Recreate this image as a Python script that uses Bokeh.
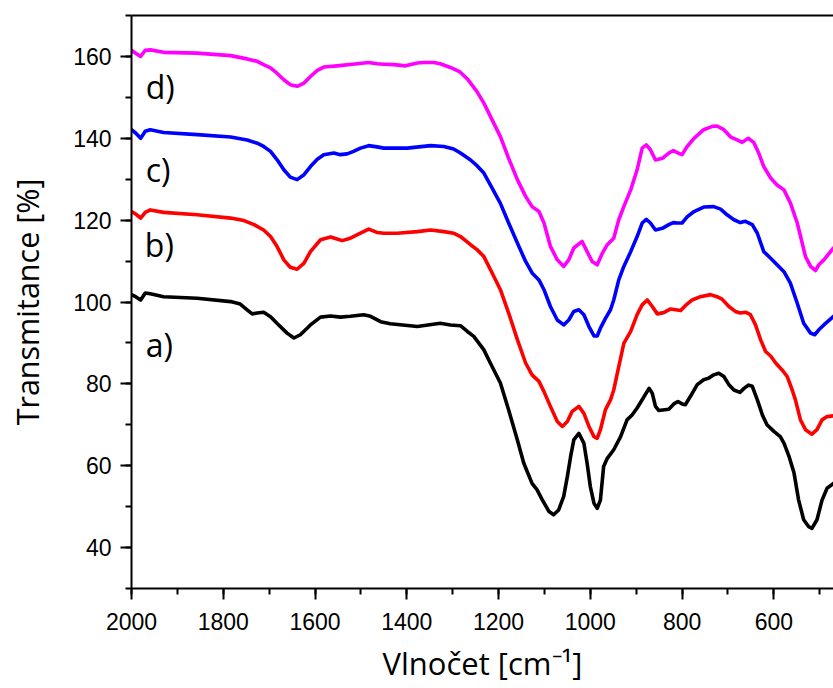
from bokeh.plotting import figure
from bokeh.models import Range1d, LinearAxis, SingleIntervalTicker, FixedTicker, ColumnDataSource
from bokeh.core.properties import value
from bokeh.embed import file_html
from bokeh.resources import INLINE

# ---- data ----
wn_a = [2000, 1991, 1980, 1970, 1959, 1930, 1857, 1784, 1763, 1748, 1737, 1726, 1712, 1697, 1683,
        1661, 1646, 1632, 1610, 1588, 1566, 1545, 1523, 1494, 1479, 1457, 1436, 1377, 1327, 1305,
        1283, 1268, 1254, 1232, 1218, 1196, 1178, 1159, 1145, 1127, 1116, 1105, 1090, 1080, 1069,
        1058, 1050, 1043, 1036, 1025, 1014, 1007, 1000, 992, 985, 978, 971, 963, 949, 934, 920,
        909, 898, 887, 872, 865, 858, 851, 829, 818, 809, 800, 793, 782, 767, 753, 742, 731, 720,
        709, 698, 687, 674, 665, 655, 647, 636, 625, 615, 600, 586, 578, 567, 556, 546, 535, 524,
        517, 506, 495, 484, 470]
t_a = [101.8, 101.3, 100.5, 102.2, 102.0, 101.3, 100.9, 100.1, 99.5, 98.1, 97.1, 97.3, 97.5, 96.4, 94.8,
       92.4, 91.2, 92.0, 94.4, 96.3, 96.6, 96.3, 96.5, 96.9, 96.5, 95.2, 94.7, 94.0, 94.8, 94.4,
       94.2, 92.8, 91.6, 88.3, 85.1, 80.2, 73.6, 66.3, 60.6, 55.7, 54.1, 51.7, 48.8, 48.0, 49.2,
       52.5, 57.4, 62.2, 66.3, 67.9, 65.5, 60.6, 54.9, 50.8, 49.6, 51.6, 59.8, 61.8, 63.9, 67.1, 71.2,
       72.4, 74.1, 76.1, 78.9, 77.7, 74.5, 73.5, 73.8, 75.1, 75.7, 75.1, 74.9, 76.9, 79.8, 81.0, 81.4, 82.2, 82.6,
       81.8, 79.8, 78.5, 77.9, 78.9, 79.7, 79.4, 76.1, 72.4, 70.0, 68.4, 67.1, 65.5, 62.3, 58.2, 51.6, 46.8, 45.1,
       44.7, 46.8, 51.6, 54.5, 55.7]

wn_b = [2000, 1991, 1980, 1970, 1959, 1930, 1857, 1784, 1755, 1733, 1712, 1697, 1683, 1668, 1654,
        1639, 1624, 1610, 1588, 1566, 1552, 1541, 1523, 1501, 1483, 1465, 1450, 1421, 1377, 1348,
        1319, 1298, 1283, 1261, 1247, 1232, 1214, 1196, 1178, 1159, 1141, 1127, 1112, 1101, 1087,
        1072, 1061, 1050, 1040, 1025, 1014, 1003, 992, 985, 978, 967, 956, 949, 938, 927, 912,
        898, 887, 876, 865, 854, 840, 825, 814, 803, 793, 778, 760, 738, 724, 713, 698, 684, 673,
        662, 651, 640, 629, 618, 607, 596, 582, 571, 560, 553, 542, 531, 517, 506, 495, 484, 470]
t_b = [122.1, 121.5, 120.5, 121.9, 122.5, 121.9, 121.3, 120.5, 119.9, 118.9, 117.6, 116.0, 113.6, 110.3, 108.5,
       108.0, 109.5, 112.3, 115.2, 115.9, 115.4, 115.0, 115.6, 116.8, 117.8, 117.0, 116.8, 116.8, 117.2, 117.6,
       117.2, 116.8, 116.0, 114.0, 112.8, 111.1, 107.1, 103.0, 97.3, 90.8, 85.1, 82.2, 80.6, 78.1, 74.5,
       70.8, 69.6, 70.8, 73.2, 74.5, 72.8, 69.6, 67.1, 66.7, 68.8, 73.7, 76.1, 78.5, 84.2, 89.9, 92.8,
       96.9, 99.3, 100.5, 98.9, 97.1, 97.4, 98.3, 98.1, 97.9, 99.1, 100.5, 101.3, 101.8, 101.3, 100.7, 98.9, 97.7, 97.3,
       97.5, 96.9, 94.4, 90.8, 87.9, 86.8, 85.1, 83.4, 81.8, 78.5, 76.1, 71.2, 68.8, 67.7, 68.8, 71.2, 72.0, 72.2]

wn_c = [2000, 1991, 1980, 1970, 1959, 1930, 1857, 1784, 1748, 1726, 1712, 1697, 1683, 1668, 1654,
        1639, 1624, 1610, 1595, 1581, 1559, 1545, 1530, 1516, 1501, 1483, 1465, 1450, 1399, 1348,
        1319, 1298, 1283, 1261, 1247, 1232, 1214, 1196, 1178, 1159, 1141, 1127, 1112, 1101, 1087,
        1072, 1058, 1047, 1036, 1025, 1014, 1003, 992, 985, 978, 967, 956, 949, 938, 927, 912,
        898, 887, 878, 869, 858, 843, 829, 819, 811, 800, 789, 774, 753, 731, 716, 702, 687, 673,
        662, 647, 636, 622, 607, 593, 578, 564, 549, 535, 520, 511, 502, 491, 470]
t_c = [142.1, 141.3, 140.0, 141.7, 142.1, 141.4, 140.9, 140.3, 139.6, 138.8, 138.0, 136.8, 134.8, 132.3, 130.5,
       129.9, 131.1, 133.1, 134.9, 136.0, 136.4, 136.0, 136.2, 136.8, 137.6, 138.2, 137.9, 137.6, 137.6, 138.2,
       138.0, 137.4, 136.4, 134.7, 133.3, 131.5, 127.8, 124.1, 119.3, 114.4, 109.9, 107.1, 105.4, 103.0, 98.9,
       95.6, 94.4, 95.6, 97.7, 98.1, 96.9, 94.0, 91.7, 91.7, 93.6, 96.0, 98.1, 100.5, 105.4, 108.7, 112.3,
       116.0, 119.3, 120.2, 119.3, 117.6, 118.0, 118.9, 119.4, 119.3, 119.3, 120.8, 122.1, 123.2, 123.3, 122.7, 121.3, 120.1, 119.4,
       119.7, 118.9, 116.8, 112.3, 110.7, 109.1, 107.4, 104.6, 99.7, 94.8, 92.4, 92.0, 93.2, 94.4, 96.5]

wn_d = [2000, 1991, 1980, 1970, 1959, 1930, 1857, 1784, 1748, 1726, 1712, 1697, 1683, 1668, 1654,
        1639, 1624, 1610, 1595, 1581, 1552, 1508, 1483, 1465, 1450, 1428, 1403, 1377, 1363, 1341,
        1327, 1305, 1284, 1268, 1247, 1232, 1214, 1196, 1178, 1159, 1141, 1127, 1112, 1101, 1087,
        1072, 1058, 1047, 1036, 1018, 1007, 996, 985, 974, 963, 949, 938, 927, 912, 898, 887,
        878, 869, 858, 843, 829, 819, 809, 800, 789, 774, 753, 734, 724, 709, 694, 680, 669, 656,
        644, 633, 622, 607, 593, 578, 564, 549, 531, 520, 509, 502, 491, 470]
t_d = [161.5, 160.8, 160.0, 161.5, 161.6, 161.0, 160.8, 160.2, 159.4, 158.8, 158.0, 157.2, 155.9, 154.3, 153.1,
       152.7, 153.5, 155.1, 156.6, 157.4, 157.7, 158.2, 158.5, 158.2, 158.1, 158.0, 157.7, 158.4, 158.5, 158.5,
       158.2, 157.3, 156.2, 154.5, 151.4, 148.6, 144.5, 140.4, 135.1, 129.9, 125.8, 123.3, 122.1, 119.3, 113.6,
       110.3, 108.7, 110.3, 113.2, 114.8, 112.3, 109.9, 109.1, 111.9, 114.0, 115.6, 120.1, 123.3, 127.4, 132.3, 137.6,
       138.4, 137.2, 134.7, 135.1, 136.4, 137.0, 136.4, 136.0, 138.0, 140.0, 142.1, 142.9, 143.0, 142.1, 140.3, 139.6, 139.0, 140.0,
       139.0, 136.4, 133.1, 130.3, 128.6, 127.4, 124.2, 119.3, 111.1, 108.7, 107.7, 109.1, 110.3, 113.2]

series_colors = ["black", "red", "blue", "magenta"]
label_text = ["a)", "b)", "c)", "d)"]
label_x = [1969, 1971, 1969, 1969]
label_y = [89.5, 114.0, 132.3, 152.6]

# ---- figure ----
p = figure(width=833, height=688, x_range=Range1d(2000, 470), y_range=Range1d(30, 170),
           output_backend="svg", toolbar_location=None,
           min_border_left=131, min_border_right=0, min_border_top=15, min_border_bottom=100)
p.outline_line_color = None
p.xgrid.visible = False
p.ygrid.visible = False
p.background_fill_color = "white"
p.border_fill_color = "white"

for wn, t, c in zip([wn_a, wn_b, wn_c, wn_d], [t_a, t_b, t_c, t_d], series_colors):
    p.line(wn, t, line_color=c, line_width=3.6, line_join="round", line_cap="round")

src = ColumnDataSource(dict(x=label_x, y=label_y, text=label_text))
p.text(x="x", y="y", text="text", source=src, text_font=value("Open Sans"),
       text_font_size="32px", text_baseline="middle", text_align="left", text_color="black")

p.xaxis.ticker = SingleIntervalTicker(interval=200, num_minor_ticks=2)
p.yaxis.ticker = SingleIntervalTicker(interval=20, num_minor_ticks=2)

for ax in [p.xaxis[0], p.yaxis[0]]:
    ax.axis_line_width = 2
    ax.axis_line_color = "black"
    ax.major_tick_line_width = 2
    ax.minor_tick_line_width = 2
    ax.major_tick_line_color = "black"
    ax.minor_tick_line_color = "black"
    ax.major_tick_out = 11
    ax.major_tick_in = 0
    ax.minor_tick_out = 6
    ax.minor_tick_in = 0
    ax.major_label_text_font = "Liberation Sans"
    ax.major_label_text_font_size = "23px"
    ax.major_label_text_color = "black"
    ax.major_label_text_line_height = 1.0
    ax.axis_label_text_font = "Open Sans"
    ax.axis_label_text_font_style = "normal"
    ax.axis_label_text_color = "black"
    ax.axis_label_text_line_height = 1.0

p.xaxis.axis_label = "Vlnočet [cm⁻¹]"
p.yaxis.axis_label = "Transmitance [%]"
p.xaxis.axis_label_text_font_size = "31px"
p.yaxis.axis_label_text_font_size = "30.5px"
p.xaxis.major_label_standoff = 13
p.yaxis.major_label_standoff = 9
p.xaxis.axis_label_standoff = 9
p.yaxis.axis_label_standoff = 22

top = LinearAxis(ticker=FixedTicker(ticks=[]), axis_line_width=2, axis_line_color="black",
                 major_tick_line_color=None, minor_tick_line_color=None)
p.add_layout(top, "above")

open("out.html", "w").write(file_html(p, INLINE))
